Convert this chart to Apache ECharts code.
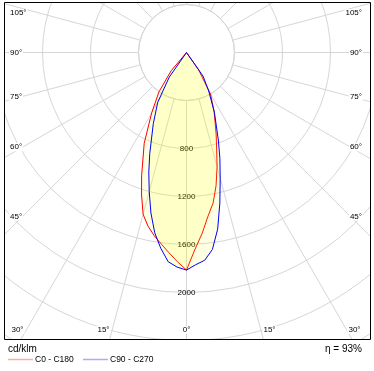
<!DOCTYPE html>
<html><head><meta charset="utf-8">
<script src="https://cdn.jsdelivr.net/npm/echarts@6/dist/echarts.min.js"></script>
<style>html,body{margin:0;padding:0;background:#fff}#c{width:374px;height:371px}</style>
</head><body><div id="c"></div>
<script>
// ---- data (cd/klm) ----
const gammaAngles = [0,2.5,5,7.5,10,12.5,15,17.5,20,25,30,35,40,45,50,55,60,65,70,75,80,85,90];
const c0   = [1813,1640,1510,1375,1275,1138,985,835,722,545,400,175,20,0,0,0,0,0,0,0,0,0,0];
const c180 = [1813,1745,1675,1610,1550,1482,1397,1245,1094,834,580,400,200,0,0,0,0,0,0,0,0,0,0];
const c90  = [1813,1770,1738,1655,1495,1284,1085,925,776,550,370,240,0,0,0,0,0,0,0,0,0,0,0];
const c270 = [1813,1790,1750,1645,1525,1370,1200,1045,895,655,480,250,0,0,0,0,0,0,0,0,0,0,0];
const ringTicks = [800,1200,1600,2000];
const sideAngles = [105,90,75,60,45];
const sideAngleLabels = ['105°','90°','75°','60°','45°'];
const bottomAngleLabels = ['30°','15°','0°','15°','30°'];
const seriesNames = ['C0 - C180','C90 - C270'];
const unitLabel = 'cd/klm';
const efficiencyLabel = 'η = 93%';

// ---- layout ----
const CX = 186.5, CY = 52.5, R_IN = 48, R_OUT = 384;
const FRAME = {x1:4, y1:2, x2:370, y2:339};
const GRID = '#d6d6d6';
const FONT = '8px "Liberation Sans", Arial, sans-serif';

function buildPath(rightVals, leftVals){
  const pts = [];
  for (let i = gammaAngles.length-1; i >= 0; i--) pts.push([rightVals[i], gammaAngles[i]]);
  for (let i = 1; i < gammaAngles.length; i++) pts.push([leftVals[i], 360 - gammaAngles[i]]);
  return pts;
}

const Z = 100;
function txt(text, x, y, align, vAlign, font, bg){
  return {type:'text', z:Z, style:{text, x, y, fill:'#000', font: font||FONT,
    align, textAlign:align, verticalAlign:vAlign, textVerticalAlign:vAlign,
    backgroundColor: bg||'transparent', padding: bg?[0,1]:0}};
}
const els = [];
// masks outside the frame
els.push({type:'rect', z:Z-1, shape:{x:0,y:0,width:374,height:FRAME.y1}, style:{fill:'#fff'}});
els.push({type:'rect', z:Z-1, shape:{x:0,y:0,width:FRAME.x1,height:371}, style:{fill:'#fff'}});
els.push({type:'rect', z:Z-1, shape:{x:FRAME.x2,y:0,width:374-FRAME.x2,height:371}, style:{fill:'#fff'}});
els.push({type:'rect', z:Z-1, shape:{x:0,y:FRAME.y2,width:374,height:371-FRAME.y2}, style:{fill:'#fff'}});
els.push({type:'rect', z:Z, shape:{x:FRAME.x1+0.5,y:FRAME.y1+0.5,width:FRAME.x2-FRAME.x1,height:FRAME.y2-FRAME.y1}, style:{fill:'none', stroke:'#000', lineWidth:1}});
// side angle labels
sideAngles.forEach((a, i) => {
  const rad = a*Math.PI/180;
  let y = CY + 164*Math.cos(rad)/Math.sin(rad);
  y = Math.max(y, 13);
  els.push(txt(sideAngleLabels[i], 9, y, 'left', 'middle', FONT, '#fff'));
  els.push(txt(sideAngleLabels[i], 363, y, 'right', 'middle', FONT, '#fff'));
});
const bottomOffsets = [-169, -83, 0, 83, 168];
bottomAngleLabels.forEach((t, i) => {
  els.push(txt(t, CX + bottomOffsets[i], 330, 'center', 'middle', FONT, '#fff'));
});
// footer
els.push(txt(unitLabel, 8, 349, 'left', 'middle', '10px "Liberation Sans", Arial, sans-serif'));
els.push(txt(efficiencyLabel, 362, 349, 'right', 'middle', '10px "Liberation Sans", Arial, sans-serif'));
els.push({type:'line', z:Z, shape:{x1:8,y1:359.5,x2:33,y2:359.5}, style:{stroke:'#ffaaaa', lineWidth:1.5}});
els.push(txt(seriesNames[0], 35, 360, 'left', 'middle', '8.5px "Liberation Sans", Arial, sans-serif'));
els.push({type:'line', z:Z, shape:{x1:83,y1:359.5,x2:108,y2:359.5}, style:{stroke:'#aaaaff', lineWidth:1.5}});
els.push(txt(seriesNames[1], 110, 360, 'left', 'middle', '8.5px "Liberation Sans", Arial, sans-serif'));

const chart = echarts.init(document.getElementById('c'), null, {renderer:'canvas'});
chart.setOption({
  animation:false,
  backgroundColor:'#fff',
  polar:[
    {center:[CX,CY], radius:[R_IN,R_OUT]},
    {center:[CX,CY], radius:[0,R_OUT]}
  ],
  angleAxis:[
    {polarIndex:0, type:'value', min:0, max:360, interval:15, startAngle:-90, clockwise:false,
     axisLine:{show:true, lineStyle:{color:GRID, width:1}}, axisTick:{show:false}, axisLabel:{show:false},
     splitLine:{show:true, lineStyle:{color:GRID, width:1}}},
    {polarIndex:1, type:'value', min:0, max:360, startAngle:-90, clockwise:false, show:false}
  ],
  radiusAxis:[
    {polarIndex:0, type:'value', min:400, max:3200, interval:400,
     axisLine:{show:false}, axisTick:{show:false},
     splitLine:{show:true, lineStyle:{color:GRID, width:1}},
     axisLabel:{show:true, margin:0, align:'center', verticalAlign:'middle', color:'#000',
       fontSize:8, fontFamily:'"Liberation Sans", Arial, sans-serif',
       formatter: v => ringTicks.includes(v) ? String(v) : ''}},
    {polarIndex:1, type:'value', min:0, max:3200, show:false}
  ],
  series:[
    {name:seriesNames[0], type:'line', coordinateSystem:'polar', polarIndex:1, symbol:'none', smooth:false,
     data: buildPath(c0, c180), lineStyle:{color:'#ff0000', width:1}, itemStyle:{color:'#ff0000'},
     areaStyle:{color:'rgba(255,255,0,0.16)'}, z:3},
    {name:seriesNames[1], type:'line', coordinateSystem:'polar', polarIndex:1, symbol:'none', smooth:false,
     data: buildPath(c90, c270), lineStyle:{color:'#0000ff', width:1}, itemStyle:{color:'#0000ff'},
     areaStyle:{color:'rgba(255,255,0,0.16)'}, z:4}
  ],
  graphic:{elements:els}
});
</script>
</body></html>
